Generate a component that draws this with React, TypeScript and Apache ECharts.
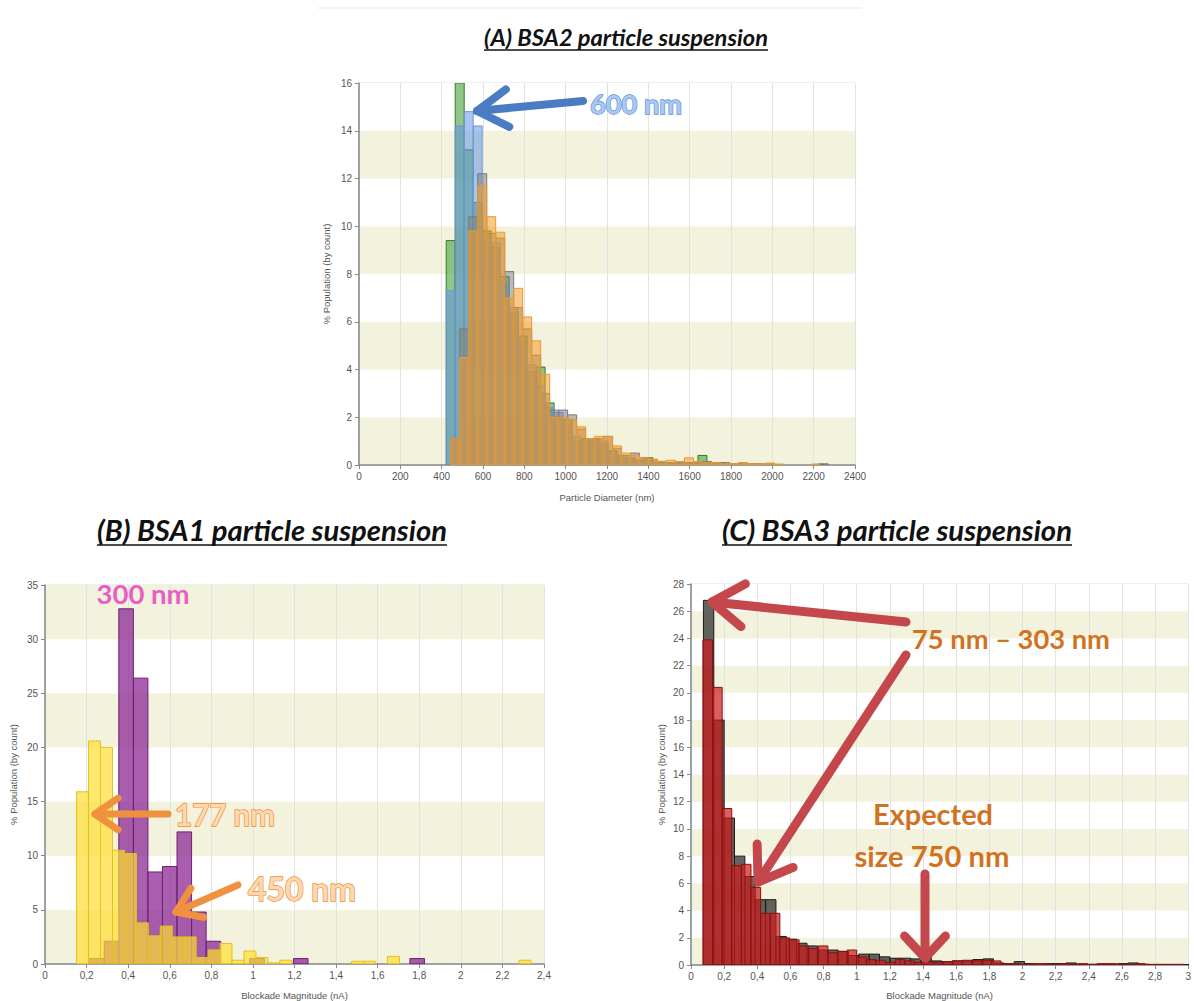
import React, { useEffect, useRef } from "react";
import * as echarts from "echarts";

// ---------- Panel A: BSA2 particle diameter histograms (nm) ----------
const A_BIN_W = 43.5;
const A_GB_START = 422; // green / blue bins
const A_GO_START = 444; // gray / orange bins
const A_GREEN = [9.4, 16.0, 13.2, 11.0, 9.8, 9.1, 7.9, 6.4, 5.4, 3.9, 4.1, 2.6, 2.0, 1.9, 1.0, 1.1, 1.1, 0.9, 0.6, 0.4, 0.3, 0.2, 0.3, 0.1, 0.1, 0.05, 0.1, 0.05, 0.4, 0.1, 0.1, 0, 0, 0, 0.05, 0, 0, 0, 0, 0, 0, 0.03];
const A_BLUE = [7.3, 14.2, 14.8, 14.2, 9.5, 9.3, 7.6, 6.6, 5.2, 4.2, 3.3, 2.4, 2.2, 1.6, 1.2, 1.0, 1.1, 1.0, 0.6, 0.4, 0.3, 0.2, 0.2, 0.1, 0.1, 0.1, 0.05, 0.1, 0.1, 0.05, 0.05, 0, 0.03, 0, 0.03];
const A_GRAY = [1.1, 5.7, 10.4, 12.2, 9.7, 9.5, 8.1, 6.6, 5.7, 4.6, 3.0, 2.3, 2.3, 2.1, 1.5, 1.0, 1.1, 1.2, 0.7, 0.4, 0.5, 0.3, 0.2, 0.15, 0.1, 0.1, 0.1, 0.1, 0.15, 0.1, 0.1, 0.05, 0.08, 0.05, 0.05, 0.05, 0.03, 0, 0, 0, 0.03, 0.05];
const A_ORANGE = [1.1, 4.5, 9.8, 11.7, 10.4, 9.75, 7.0, 7.4, 6.2, 5.2, 3.8, 2.0, 2.0, 1.9, 1.6, 1.1, 1.2, 1.2, 0.8, 0.5, 0.4, 0.3, 0.25, 0.15, 0.2, 0.15, 0.3, 0.15, 0.1, 0.1, 0.05, 0.05, 0.1, 0.05, 0.05, 0.08, 0.03, 0, 0, 0, 0.02];

// ---------- Panel B: BSA1 blockade magnitude (nA) ----------
const B_PURPLE_START = 0.215;
const B_PURPLE_W = 0.07;
const B_PURPLE = [0.5, 2.1, 32.8, 26.4, 8.5, 9.0, 12.2, 4.8, 2.1, 0, 0, 0.5, 0, 0, 0.5, 0, 0, 0, 0, 0, 0, 0, 0.5];
const B_YELLOW_START = 0.152;
const B_YELLOW_W = 0.0575;
const B_YELLOW = [15.9, 20.6, 20.0, 10.5, 10.2, 3.8, 2.6, 3.5, 2.5, 2.5, 0.6, 1.3, 1.9, 0.35, 1.2, 0.6, 0.1, 0.35, 0, 0, 0, 0, 0, 0.25, 0.25, 0, 0.7, 0, 0, 0, 0, 0, 0, 0, 0, 0, 0, 0.35];

// ---------- Panel C: BSA3 blockade magnitude (nA) ----------
const C_BLACK_START = 0.075;
const C_BLACK_W = 0.0625;
const C_BLACK = [26.8, 18.0, 10.8, 8.0, 6.5, 4.8, 4.8, 2.1, 1.9, 1.6, 1.4, 1.1, 1.1, 1.0, 0.7, 0.8, 0.8, 0.6, 0.5, 0.5, 0.45, 0.55, 0.3, 0.25, 0.3, 0.3, 0.4, 0.45, 0.15, 0.1, 0.25, 0.1, 0.05, 0.1, 0.1, 0.15, 0.05, 0.05, 0.05, 0.05, 0.1, 0.15, 0.05, 0.03, 0.03, 0.03, 0.03];
const C_RED_START = 0.072;
const C_RED_W = 0.058;
const C_RED = [23.9, 20.4, 11.5, 7.3, 7.4, 5.7, 3.8, 3.8, 2.0, 1.85, 1.4, 1.2, 1.4, 0.9, 1.0, 1.1, 0.6, 0.4, 0.35, 0.2, 0.4, 0.3, 0.2, 0.25, 0.2, 0.25, 0.3, 0.35, 0.3, 0.35, 0.3, 0.1, 0.1, 0.05, 0.1, 0.1, 0.05, 0.1, 0.05, 0.1, 0.05, 0.1, 0.1, 0.05, 0.05, 0.1, 0.05, 0.05, 0.05, 0.05];

// ---------- Texts ----------
const TITLE_A = "(A) BSA2 particle suspension";
const TITLE_B = "(B) BSA1 particle suspension";
const TITLE_C = "(C) BSA3 particle suspension";
const Y_NAME = "% Population (by count)";
const X_NAME_A = "Particle Diameter (nm)";
const X_NAME_BC = "Blockade Magnitude (nA)";

const AX_FONT = "'Liberation Sans', Arial, sans-serif";
const ANN_FONT = "Lato, 'Open Sans', sans-serif";

function measure(text: string, font: string): number {
  const c = document.createElement("canvas").getContext("2d");
  if (!c) return text.length * 10;
  c.font = font;
  return c.measureText(text).width;
}

function fitSize(text: string, style: string, target: number): number {
  const base = 40;
  const w = measure(text, `${style} bold ${base}px Lato`);
  return (base * target) / w;
}

function hist(start: number, w: number, vals: number[], idx: number, fill: string, stroke: string) {
  const data = vals
    .map((v, i) => [start + i * w, start + (i + 1) * w, v])
    .filter((d) => d[2] > 0);
  return {
    type: "custom",
    xAxisIndex: idx,
    yAxisIndex: idx,
    data,
    encode: { x: [0, 1], y: 2 },
    silent: true,
    clip: true,
    renderItem: (params: any, api: any) => {
      const a = api.coord([api.value(0), api.value(2)]);
      const b = api.coord([api.value(1), 0]);
      return {
        type: "rect",
        shape: { x: a[0], y: a[1], width: b[0] - a[0], height: b[1] - a[1] },
        style: { fill, stroke, lineWidth: 1 },
      };
    },
  };
}

function arrow(x1: number, y1: number, x2: number, y2: number, color: string, w: number, headLen: number, headAng: number) {
  const ang = Math.atan2(y1 - y2, x1 - x2);
  const a1 = ang + headAng;
  const a2 = ang - headAng;
  return [
    {
      type: "line",
      shape: { x1, y1, x2, y2 },
      style: { stroke: color, lineWidth: w, lineCap: "round" },
      z: 100,
    },
    {
      type: "polyline",
      shape: {
        points: [
          [x2 + headLen * Math.cos(a1), y2 + headLen * Math.sin(a1)],
          [x2, y2],
          [x2 + headLen * Math.cos(a2), y2 + headLen * Math.sin(a2)],
        ],
      },
      style: { stroke: color, lineWidth: w, lineCap: "round", lineJoin: "round", fill: null },
      z: 100,
    },
  ];
}

function title(text: string, cx: number, cy: number, width: number) {
  const fs = fitSize(text, "italic", width);
  return [
    {
      type: "text",
      x: cx,
      y: cy,
      style: {
        text,
        fontSize: fs,
        fontWeight: "bold",
        fontStyle: "italic",
        fontFamily: ANN_FONT,
        fill: "#111",
        align: "center",
        verticalAlign: "middle",
      },
      z: 100,
    },
    {
      type: "line",
      shape: { x1: cx - width / 2, y1: cy + fs * 0.55, x2: cx + width / 2, y2: cy + fs * 0.55 },
      style: { stroke: "#111", lineWidth: 1.5 },
      z: 100,
    },
  ];
}

function label(text: string, cx: number, cy: number, width: number, fill: string, stroke?: string) {
  const fs = fitSize(text, "normal", width);
  const style: any = {
    text,
    fontSize: fs,
    fontWeight: "bold",
    fontFamily: ANN_FONT,
    fill,
    align: "center",
    verticalAlign: "middle",
  };
  if (stroke) {
    style.stroke = stroke;
    style.lineWidth = 1.3;
  }
  return { type: "text", x: cx, y: cy, style, z: 110 };
}

const commaFmt = (v: number) => String(Number(v.toFixed(2))).replace(".", ",");

function xAxis(idx: number, max: number, interval: number, name: string, gap: number, comma: boolean) {
  return {
    gridIndex: idx,
    type: "value",
    min: 0,
    max,
    interval,
    name,
    nameLocation: "middle",
    nameGap: gap,
    nameTextStyle: { fontSize: 9.5, color: "#555", fontFamily: AX_FONT },
    axisLine: { show: true, onZero: false, lineStyle: { color: "#888", width: 1.5 } },
    axisTick: { show: true, length: 4, lineStyle: { color: "#888" } },
    axisLabel: {
      fontSize: 10,
      color: "#555",
      fontFamily: AX_FONT,
      margin: 6,
      formatter: comma ? commaFmt : (v: number) => String(v),
    },
    splitLine: { show: true, lineStyle: { color: "#e2e2e2" } },
  };
}

function yAxis(idx: number, max: number, interval: number, gap: number) {
  return {
    gridIndex: idx,
    type: "value",
    min: 0,
    max,
    interval,
    name: Y_NAME,
    nameLocation: "middle",
    nameGap: gap,
    nameRotate: 90,
    nameTextStyle: { fontSize: 9.5, color: "#555", fontFamily: AX_FONT },
    axisLine: { show: true, lineStyle: { color: "#888", width: 1.5 } },
    axisTick: { show: true, length: 4, lineStyle: { color: "#888" } },
    axisLabel: { fontSize: 10, color: "#555", fontFamily: AX_FONT, margin: 7 },
    splitLine: { show: false },
    splitArea: { show: true, areaStyle: { color: ["#f3f2dd", "#ffffff"] } },
  };
}

export default function App() {
  const ref = useRef<HTMLDivElement>(null);

  useEffect(() => {
    if (!ref.current) return;
    const chart = echarts.init(ref.current, null, { renderer: "svg" });

    const grids = [
      { left: 359, top: 83, width: 496, height: 382 },
      { left: 45, top: 585, width: 499, height: 383 },
      { left: 691, top: 584, width: 500, height: 385 },
    ].map((g) => ({ ...g, show: true, borderColor: "#dedede", borderWidth: 1, backgroundColor: "transparent" }));

    const graphic: any[] = [
      { type: "line", shape: { x1: 318, y1: 8, x2: 862, y2: 8 }, style: { stroke: "#e6e6e6", lineWidth: 1 } },
      ...title(TITLE_A, 626, 37, 284),
      ...title(TITLE_B, 272, 529, 350),
      ...title(TITLE_C, 897, 529, 350),
      // Panel A annotations
      ...arrow(583, 101, 477, 111, "#4a7cc2", 8, 36, 0.55),
      label("600 nm", 636, 103, 92, "#a9c8f3", "#5b8fd6"),
      // Panel B annotations
      label("300 nm", 143, 593, 93, "#e85ec6"),
      ...arrow(168, 814, 95, 814, "#f0913f", 7, 28, 0.6),
      label("177 nm", 225, 814, 100, "#fcd8ae", "#ee8a35"),
      ...arrow(238, 885, 176, 912, "#f0913f", 7, 28, 0.6),
      label("450 nm", 302, 889, 108, "#fcd8ae", "#ee8a35"),
      // Panel C annotations
      ...arrow(906, 622, 712, 602, "#c4474c", 9, 38, 0.6),
      ...arrow(906, 655, 758, 882, "#c4474c", 9, 38, 0.6),
      ...arrow(925, 874, 925, 958, "#c4474c", 9, 30, 0.75),
      label("75 nm – 303 nm", 1011, 638, 198, "#d2721f"),
      label("Expected", 933, 813, 120, "#d2721f"),
      label("size 750 nm", 932, 855, 155, "#d2721f"),
    ];

    const option: any = {
      animation: false,
      backgroundColor: "#ffffff",
      grid: grids,
      xAxis: [
        xAxis(0, 2400, 200, X_NAME_A, 27, false),
        xAxis(1, 2.4, 0.2, X_NAME_BC, 26, true),
        xAxis(2, 3, 0.2, X_NAME_BC, 25, true),
      ],
      yAxis: [yAxis(0, 16, 2, 28), yAxis(1, 35, 5, 27), yAxis(2, 28, 2, 25)],
      series: [
        hist(A_GB_START, A_BIN_W, A_GREEN, 0, "rgba(70,160,60,0.6)", "#2f7d25"),
        hist(A_GB_START, A_BIN_W, A_BLUE, 0, "rgba(100,150,225,0.55)", "#6d97d8"),
        hist(A_GO_START, A_BIN_W, A_GRAY, 0, "rgba(130,130,130,0.55)", "#7a7a7a"),
        hist(A_GO_START, A_BIN_W, A_ORANGE, 0, "rgba(245,155,40,0.55)", "#e89a30"),
        hist(B_PURPLE_START, B_PURPLE_W, B_PURPLE, 1, "rgba(140,40,150,0.75)", "#6d1f73"),
        hist(B_YELLOW_START, B_YELLOW_W, B_YELLOW, 1, "rgba(255,222,50,0.7)", "#e3c21a"),
        hist(C_BLACK_START, C_BLACK_W, C_BLACK, 2, "rgba(40,40,40,0.72)", "#1a1a1a"),
        hist(C_RED_START, C_RED_W, C_RED, 2, "rgba(205,25,25,0.7)", "#8a1010"),
      ],
      graphic,
    };

    chart.setOption(option);
    return () => chart.dispose();
  }, []);

  return (
    <div
      ref={ref}
      style={{ position: "absolute", left: 0, top: 0, width: 1194, height: 1001, background: "#fff" }}
    />
  );
}
